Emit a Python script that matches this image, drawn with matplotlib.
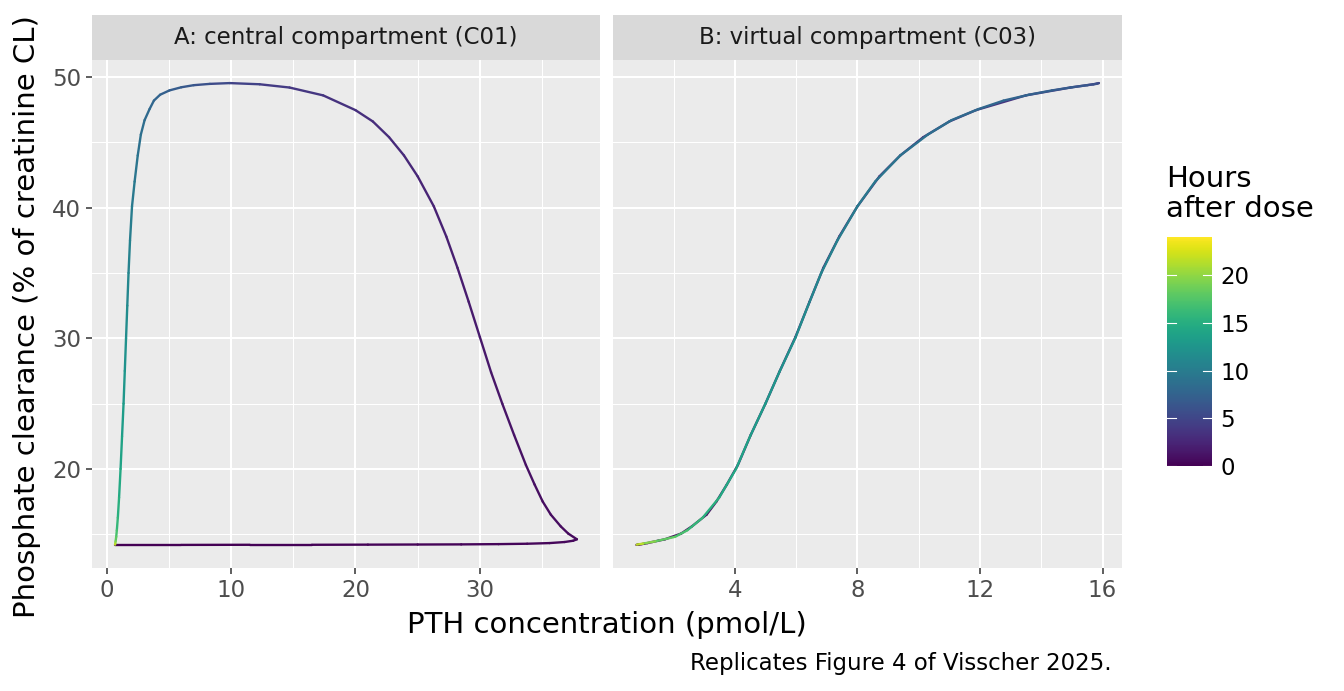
import numpy as np
import matplotlib
matplotlib.use("Agg")
import matplotlib.pyplot as plt
from matplotlib.collections import LineCollection
from matplotlib.ticker import MultipleLocator, FixedLocator
from matplotlib import colors as mcolors
from matplotlib import colorbar as mcolorbar

# simulated PTH / phosphate clearance profile
time_h = [0.00, 0.05, 0.10, 0.15, 0.20, 0.25, 0.30, 0.35, 0.40, 0.45,
          0.50, 0.55, 0.60, 0.68, 0.76, 0.84, 0.92, 1.00, 1.10, 1.25,
          1.40, 1.55, 1.70, 1.85, 2.00, 2.20, 2.40, 2.65, 2.85, 3.05,
          3.25, 3.45, 3.80, 4.20, 4.70, 5.40, 6.00, 6.50, 6.90, 7.30,
          7.60, 7.90, 8.20, 8.55, 8.90, 9.30, 9.70, 10.10, 10.60, 11.10,
          11.60, 12.10, 12.70, 13.30, 13.90, 14.50, 15.20, 16.00, 17.00, 18.00,
          19.50, 21.50, 24.00]
pth_central = [0.68, 6.0, 11.5, 16.5, 21.0, 25.0, 28.5, 31.5, 33.8, 35.6,
               36.8, 37.5, 37.8, 37.1, 36.5, 35.7, 35.05, 34.4, 33.7, 32.75,
               31.8, 30.9, 30.0, 29.1, 28.2, 27.3, 26.3, 25.0, 23.9, 22.7,
               21.4, 20.0, 17.4, 14.7, 12.3, 9.9, 8.3, 7.0, 6.0, 5.05,
               4.3, 3.8, 3.45, 3.05, 2.75, 2.50, 2.25, 2.04, 1.88, 1.76,
               1.66, 1.56, 1.46, 1.36, 1.24, 1.12, 1.00, 0.90, 0.82, 0.77,
               0.72, 0.69, 0.68]
pth_virtual = [0.78, 0.79, 0.80, 0.82, 0.84, 0.87, 0.90, 0.96, 1.04, 1.15,
               1.30, 1.50, 1.72, 2.25, 2.60, 3.08, 3.40, 3.74, 4.10, 4.52,
               5.00, 5.45, 5.98, 6.44, 6.89, 7.41, 8.00, 8.72, 9.40, 10.15,
               11.00, 11.87, 13.50, 14.95, 15.70, 15.88, 15.80, 15.50, 15.00, 14.35,
               13.60, 12.77, 11.95, 11.07, 10.30, 9.40, 8.58, 8.00, 7.35, 6.82,
               6.39, 5.97, 5.47, 5.00, 4.50, 4.04, 3.49, 2.95, 2.45, 2.05,
               1.40, 1.00, 0.80]
phos_cl = [14.18, 14.18, 14.19, 14.19, 14.20, 14.21, 14.22, 14.24, 14.27, 14.32,
           14.40, 14.50, 14.61, 15.05, 15.60, 16.50, 17.50, 18.80, 20.30, 22.60,
           25.00, 27.40, 30.10, 32.80, 35.40, 37.80, 40.10, 42.40, 44.00, 45.40,
           46.60, 47.47, 48.60, 49.20, 49.45, 49.54, 49.48, 49.38, 49.22, 48.98,
           48.65, 48.20, 47.55, 46.70, 45.60, 44.00, 42.00, 40.10, 37.50, 35.00,
           32.50, 30.00, 27.50, 25.00, 22.50, 20.00, 17.80, 16.26, 15.30, 14.80,
           14.45, 14.28, 14.20]

panel_titles = ["A: central compartment (C01)", "B: virtual compartment (C03)"]
hours_max = 24

W, H = 1344, 691
fig = plt.figure(figsize=(W / 100, H / 100), dpi=100)
plt.rcParams['font.family'] = ['DejaVu Sans']

norm = mcolors.Normalize(0, hours_max)
cmap = plt.get_cmap("viridis")
small = 16.5
big = 21


def px_axes(x0, y0, x1, y1):
    return fig.add_axes([x0 / W, 1 - y1 / H, (x1 - x0) / W, (y1 - y0) / H])


def expand(v):
    lo, hi = min(v), max(v)
    pad = 0.05 * (hi - lo)
    return lo - pad, hi + pad


def draw_panel(box, x, title, xmajor, xminor, show_y):
    ax = px_axes(*box)
    ax.set_facecolor("#ebebeb")
    for s in ax.spines.values():
        s.set_visible(False)
    pts = np.column_stack([x, phos_cl])
    segs = np.stack([pts[:-1], pts[1:]], axis=1)
    lc = LineCollection(segs, cmap=cmap, norm=norm, linewidths=1.7, capstyle="round")
    lc.set_array(np.asarray(time_h[:-1]))
    ax.add_collection(lc)
    ax.set_xlim(*expand(x))
    ax.set_ylim(*expand(phos_cl))
    ax.xaxis.set_major_locator(FixedLocator(xmajor))
    ax.xaxis.set_minor_locator(FixedLocator(xminor))
    ax.yaxis.set_major_locator(MultipleLocator(10))
    ax.yaxis.set_minor_locator(MultipleLocator(5))
    ax.grid(which="major", color="white", lw=1.45)
    ax.grid(which="minor", color="white", lw=0.75)
    ax.set_axisbelow(True)
    ax.tick_params(which="minor", length=0)
    ax.tick_params(which="major", length=4.5, width=1.1, color="#333333",
                   labelsize=small, labelcolor="#4d4d4d", pad=3.5)
    if not show_y:
        ax.tick_params(axis="y", length=0, labelleft=False)
    # facet strip
    sx = px_axes(box[0], 15, box[2], 60)
    sx.set_facecolor("#d9d9d9")
    sx.set_xticks([])
    sx.set_yticks([])
    for s in sx.spines.values():
        s.set_visible(False)
    sx.text(0.5, 0.5, title, ha="center", va="center", fontsize=small,
            color="#1a1a1a", transform=sx.transAxes)
    return ax


draw_panel((92, 60, 600, 568), pth_central, panel_titles[0],
           [0, 10, 20, 30], [5, 15, 25, 35], True)
draw_panel((613, 60, 1122, 568), pth_virtual, panel_titles[1],
           [4, 8, 12, 16], [2, 6, 10, 14], False)

fig.text(607 / W, 1 - 633 / H, "PTH concentration (pmol/L)", ha="center",
         va="baseline", fontsize=big)
fig.text(27 / W, 1 - 317 / H, "Phosphate clearance (% of creatinine CL)",
         ha="center", va="center", rotation=90, fontsize=big)
fig.text(1112 / W, 1 - 670 / H, "Replicates Figure 4 of Visscher 2025.",
         ha="right", va="baseline", fontsize=small)

# colour bar legend
cax = px_axes(1167, 237, 1212, 466)
cb = mcolorbar.ColorbarBase(cax, cmap=cmap, norm=norm, orientation="vertical")
cb.outline.set_visible(False)
cb_ticks = [0, 5, 10, 15, 20]
cb.set_ticks(cb_ticks)
cax.tick_params(length=0, labelsize=small, labelcolor="black", pad=6)
for t in cb_ticks:
    cax.plot([0, 0.2], [t, t], color="white", lw=0.8, transform=cax.get_yaxis_transform())
    cax.plot([0.8, 1.0], [t, t], color="white", lw=0.8, transform=cax.get_yaxis_transform())
fig.text(1166 / W, 1 - 165 / H, "Hours\nafter dose", ha="left", va="top",
         fontsize=big, linespacing=1.08)

fig.savefig("out.png", dpi=100)
